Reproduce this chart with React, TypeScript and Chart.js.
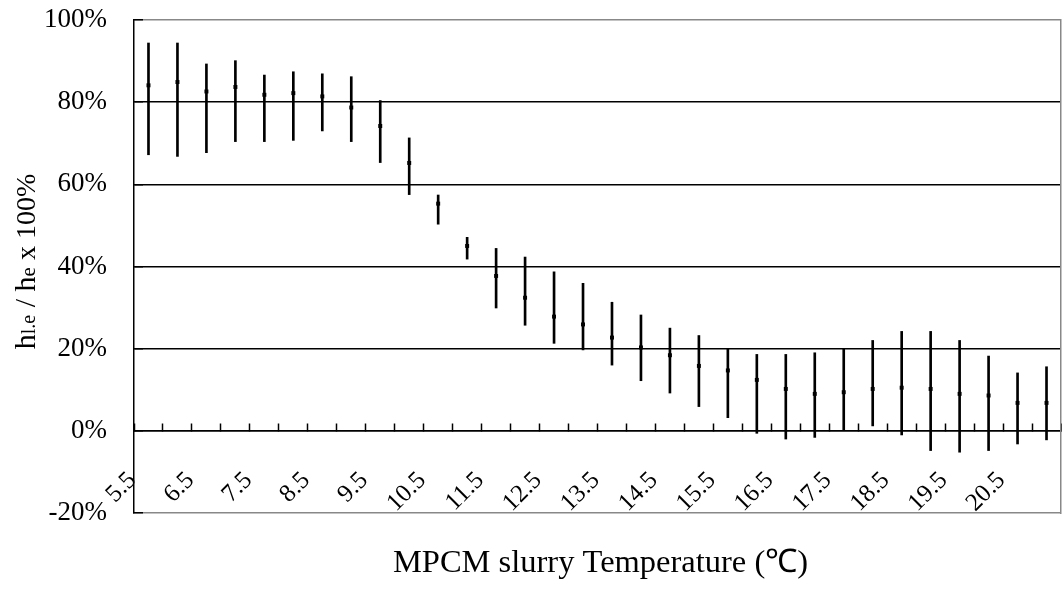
import React, { useEffect, useRef } from 'react';
import { Chart, registerables } from 'chart.js';

Chart.register(...registerables);

// Categories: MPCM slurry temperature (°C)
const TEMPERATURES = ['5.5', '6', '6.5', '7', '7.5', '8', '8.5', '9', '9.5', '10', '10.5', '11', '11.5', '12', '12.5', '13', '13.5', '14', '14.5', '15', '15.5', '16', '16.5', '17', '17.5', '18', '18.5', '19', '19.5', '20', '20.5', '21'];
// Mean ratio hl.e / he (%)
const RATIO = [84.1, 84.9, 82.6, 83.7, 81.8, 82.2, 81.4, 78.7, 74.2, 65.2, 55.3, 45.0, 37.7, 32.4, 27.8, 25.9, 22.7, 20.3, 18.4, 15.8, 14.7, 12.4, 10.2, 9.0, 9.4, 10.2, 10.5, 10.2, 9.0, 8.6, 6.8, 6.8];
// Error bar upper / lower ends (%)
const UPPER = [94.4, 94.4, 89.3, 90.1, 86.6, 87.4, 86.9, 86.2, 80.4, 71.3, 57.4, 47.1, 44.4, 42.3, 38.7, 35.9, 31.3, 28.2, 25.0, 23.2, 20.0, 18.6, 18.6, 19.0, 20.0, 22.0, 24.2, 24.2, 22.0, 18.2, 14.1, 15.6];
const LOWER = [67.2, 66.8, 67.7, 70.4, 70.4, 70.7, 73.0, 70.4, 65.3, 57.5, 50.3, 41.8, 29.9, 25.7, 21.3, 19.7, 16.0, 12.2, 9.2, 5.9, 3.2, -0.6, -2.0, -1.6, 0.0, 1.2, -1.0, -4.8, -5.2, -4.8, -3.2, -2.2];
// Y axis tick values (%)
const Y_TICKS = [-20, 0, 20, 40, 60, 80, 100];

const X_TITLE = 'MPCM slurry Temperature (\u2103)';
const Y_TITLE_PARTS = [
  { text: 'h', size: 30 },
  { text: 'l.e', size: 20 },
  { text: ' / h', size: 30 },
  { text: 'e', size: 21 },
  { text: ' x 100%', size: 28 },
];

const SERIF = '"Liberation Serif", "Times New Roman", serif';

const titlesPlugin = {
  id: 'axisTitles',
  afterDraw(chart: any) {
    const { ctx, chartArea } = chart;
    ctx.save();
    ctx.fillStyle = '#000';
    ctx.textBaseline = 'alphabetic';
    // X title
    ctx.font = `32.5px ${SERIF}`;
    ctx.textAlign = 'center';
    ctx.fillText(X_TITLE, (chartArea.left + chartArea.right) / 2 + 3, chartArea.bottom + 59);
    // Y title with subscripts
    ctx.textAlign = 'left';
    let total = 0;
    const widths = Y_TITLE_PARTS.map((p) => {
      ctx.font = `${p.size}px ${SERIF}`;
      const w = ctx.measureText(p.text).width;
      total += w;
      return w;
    });
    ctx.translate(chartArea.left - 99, (chartArea.top + chartArea.bottom) / 2 - 5);
    ctx.rotate(-Math.PI / 2);
    let x = -total / 2;
    Y_TITLE_PARTS.forEach((p, i) => {
      ctx.font = `${p.size}px ${SERIF}`;
      ctx.fillText(p.text, x, 0);
      x += widths[i];
    });
    ctx.restore();
  },
};

const zeroPadding = (scale: any) => {
  scale.paddingLeft = 0;
  scale.paddingRight = 0;
  scale.paddingTop = 0;
  scale.paddingBottom = 0;
};

export default function App() {
  const canvasRef = useRef<HTMLCanvasElement | null>(null);

  useEffect(() => {
    const canvas = canvasRef.current;
    if (!canvas) return;
    const chart = new Chart(canvas, {
      type: 'bar',
      data: {
        labels: TEMPERATURES,
        datasets: [
          {
            type: 'line',
            data: RATIO,
            showLine: false,
            pointStyle: 'rect',
            pointRadius: 2.8,
            pointBackgroundColor: '#000',
            pointBorderWidth: 0,
            order: 0,
          } as any,
          {
            type: 'bar',
            data: LOWER.map((l, i) => [l, UPPER[i]]),
            backgroundColor: '#000',
            barThickness: 2,
            grouped: false,
            order: 1,
          } as any,
        ],
      },
      options: {
        animation: false,
        responsive: false,
        layout: { autoPadding: false, padding: { left: 0, right: 1, top: 20, bottom: 79 } },
        plugins: {
          legend: { display: false },
          tooltip: { enabled: false },
          title: { display: false },
        },
        scales: {
          x: {
            type: 'category',
            position: { y: 0 } as any,
            offset: true,
            afterFit: zeroPadding,
            grid: {
              offset: true,
              drawOnChartArea: false,
              drawTicks: true,
              tickLength: -8,
              tickColor: '#000',
              tickWidth: 1.5,
            },
            border: { display: true, color: '#000', width: 1.5 },
            ticks: {
              autoSkip: false,
              maxRotation: 45,
              minRotation: 45,
              padding: 43,
              labelOffset: -16,
              color: '#000',
              font: { family: SERIF, size: 25 },
              callback: (_v: any, i: number) => (i % 2 === 0 ? TEMPERATURES[i] : ''),
            },
          },
          y: {
            min: -20,
            max: 100,
            afterBuildTicks: (scale: any) => {
              scale.ticks = Y_TICKS.map((v) => ({ value: v }));
            },
            afterFit: (scale: any) => {
              scale.width = 134;
              zeroPadding(scale);
            },
            grid: {
              color: (c: any) => (c.tick && (c.tick.value === 100 || c.tick.value === -20) ? '#888' : '#000'),
              lineWidth: 1.5,
              drawTicks: true,
              tickLength: -9,
              tickColor: '#000',
              tickWidth: 1.5,
            },
            border: { display: true, color: '#000', width: 1.5 },
            ticks: {
              padding: 36,
              color: '#000',
              font: { family: SERIF, size: 27 },
              callback: (v: any) => `${v}%`,
            },
          },
          y2: {
            position: 'right',
            display: true,
            min: -20,
            max: 100,
            grid: { drawOnChartArea: false, drawTicks: false },
            ticks: { display: false },
            border: { display: true, color: '#888', width: 1.5 },
            afterFit: (scale: any) => {
              scale.width = 0;
              zeroPadding(scale);
            },
          },
        },
      } as any,
      plugins: [titlesPlugin],
    });
    return () => chart.destroy();
  }, []);

  return (
    <div style={{ position: 'absolute', left: 0, top: 0, width: 1062, height: 592, background: '#fff' }}>
      <canvas ref={canvasRef} width={1062} height={592} style={{ display: 'block' }} />
    </div>
  );
}
